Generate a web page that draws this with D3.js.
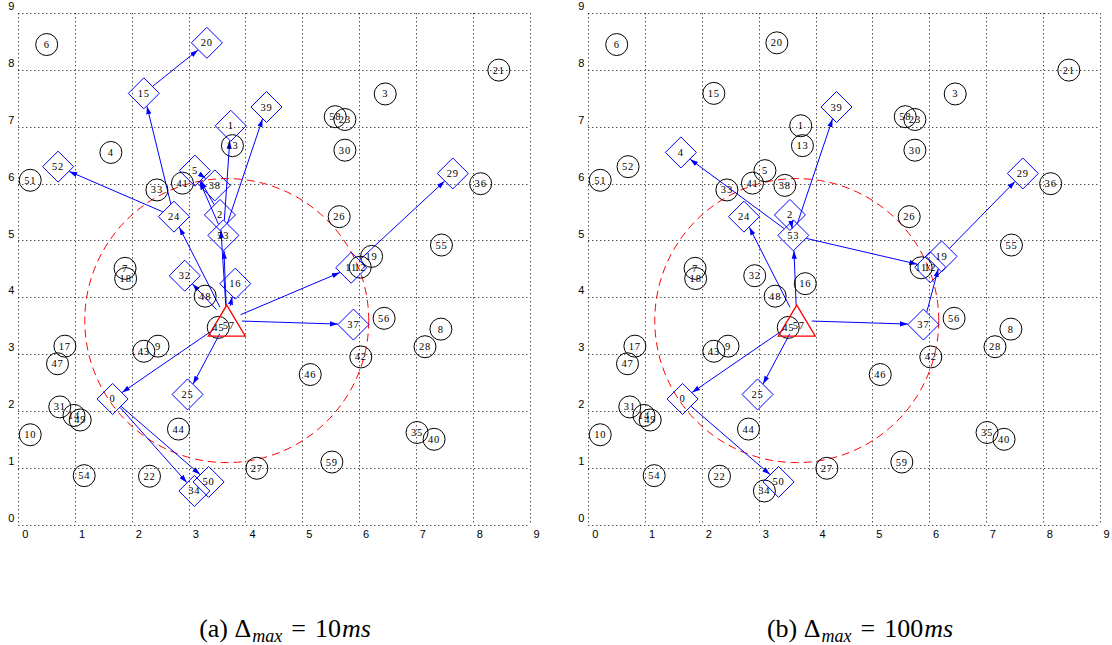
<!DOCTYPE html>
<html>
<head>
<meta charset="utf-8">
<script src="https://cdn.jsdelivr.net/npm/d3@7"></script>
<style>
  body { margin: 0; background: #fff; }
  .tick-label { font-family: "Liberation Sans", Arial, sans-serif; font-size: 11px; fill: #000; }
  .node-label { font-family: "Liberation Serif", "Times New Roman", serif; font-size: 10.5px; letter-spacing: 0.8px; fill: #000; }
  .caption { font-family: "Liberation Serif", "Times New Roman", serif; font-size: 26px; fill: #000; }
</style>
</head>
<body>
<div id="chart"></div>
<script>
// node positions (same network in both panels), index = node id
var nodeX = [1.66, 3.74, 3.55, 6.46, 1.63, 3.11, 0.50, 1.88, 7.44, 2.46,
             0.21, 5.86, 6.02, 3.77, 0.98, 2.21, 3.82, 0.82, 1.89, 6.22,
             3.32, 8.46, 2.31, 5.75, 2.74, 2.98, 5.65, 4.20, 7.16, 7.65,
             5.75, 0.73, 2.93, 2.44, 3.10, 7.02, 8.14, 5.90, 3.46, 4.37,
             7.32, 2.89, 6.03, 2.21, 2.82, 3.52, 5.14, 0.69, 3.29, 1.09,
             3.35, 0.21, 0.70, 3.61, 1.16, 7.45, 6.44, 3.67, 5.58, 5.52];
var nodeY = [2.21, 7.02, 5.45, 7.58, 6.55, 6.23, 8.45, 4.51, 3.44, 3.14,
             1.58, 4.52, 4.53, 6.67, 1.92, 7.59, 4.24, 3.14, 4.33, 4.72,
             8.48, 8.00, 0.85, 7.13, 5.42, 2.29, 5.42, 0.99, 3.13, 6.18,
             6.59, 2.07, 4.38, 5.89, 0.59, 1.62, 6.00, 3.52, 5.97, 7.35,
             1.50, 6.01, 2.95, 3.05, 1.68, 3.47, 2.64, 2.83, 4.02, 1.84,
             0.75, 6.06, 6.30, 5.09, 0.86, 4.92, 3.63, 3.59, 7.18, 1.10];

var sinkNode = 57;
var rangeRadius = 2.5;

// selected nodes (diamonds) and arrows for each panel
var diamondsA = [0, 1, 2, 5, 11, 15, 16, 20, 24, 25, 29, 32, 34, 37, 38, 39, 50, 52, 53];
var edgesA = [[57, 0], [57, 25], [57, 32], [57, 24], [57, 16], [57, 37], [57, 11], [57, 53], [57, 2],
              [53, 1], [53, 39], [53, 5], [2, 5], [5, 38], [0, 34], [0, 50], [24, 52], [24, 15],
              [15, 20], [11, 29]];

var diamondsB = [0, 2, 4, 12, 19, 24, 25, 29, 37, 39, 50, 53];
var edgesB = [[57, 0], [57, 25], [57, 24], [57, 53], [57, 37], [0, 50], [53, 4], [53, 39],
              [53, 12], [53, 2], [37, 19], [19, 29]];

var tickValues = [0, 1, 2, 3, 4, 5, 6, 7, 8, 9];

var captionA = ["(a) \u0394", "max", "=", "10", "ms"];
var captionB = ["(b) \u0394", "max", "=", "100", "ms"];

var svgWidth = 1112;
var svgHeight = 645;
var plotSize = 511.2;
var plotTop = 13.3;

var svg = d3.select("#chart").append("svg")
  .attr("width", svgWidth).attr("height", svgHeight);

svg.append("defs").append("marker")
  .attr("id", "arrow")
  .attr("viewBox", "0 -3 8 6")
  .attr("refX", 8).attr("refY", 0)
  .attr("markerWidth", 8).attr("markerHeight", 6)
  .attr("markerUnits", "userSpaceOnUse")
  .attr("orient", "auto")
  .append("path")
  .attr("d", "M0,-2.6L8,0L0,2.6Z")
  .attr("fill", "#0000ff");

function drawPanel(left, diamonds, edges, caption, captionX) {
  var xScale = d3.scaleLinear().domain([0, 9]).range([left, left + plotSize]);
  var yScale = d3.scaleLinear().domain([0, 9]).range([plotTop + plotSize, plotTop]);
  var g = svg.append("g");

  // dotted grid (incl. box)
  g.selectAll(".vgrid").data(tickValues).enter().append("line")
    .attr("x1", d => Math.round(xScale(d)) + 0.5).attr("x2", d => Math.round(xScale(d)) + 0.5)
    .attr("y1", yScale(9)).attr("y2", yScale(0))
    .attr("stroke", "#000").attr("stroke-width", 1).attr("stroke-dasharray", "1,3");
  g.selectAll(".hgrid").data(tickValues).enter().append("line")
    .attr("y1", d => Math.round(yScale(d)) + 0.5).attr("y2", d => Math.round(yScale(d)) + 0.5)
    .attr("x1", xScale(0)).attr("x2", xScale(9))
    .attr("stroke", "#000").attr("stroke-width", 1).attr("stroke-dasharray", "1,3");

  // tick labels
  g.selectAll(".xlab").data(tickValues).enter().append("text")
    .attr("class", "tick-label")
    .attr("x", d => xScale(d) + 7).attr("y", yScale(0) + 9)
    .attr("text-anchor", "middle").attr("dominant-baseline", "central")
    .text(d => d);
  g.selectAll(".ylab").data(tickValues).enter().append("text")
    .attr("class", "tick-label")
    .attr("x", xScale(0) - 7).attr("y", d => yScale(d) - 7)
    .attr("text-anchor", "middle").attr("dominant-baseline", "central")
    .text(d => d);

  // communication range of the sink
  g.append("circle")
    .attr("cx", xScale(nodeX[sinkNode])).attr("cy", yScale(nodeY[sinkNode]))
    .attr("r", xScale(rangeRadius) - xScale(0))
    .attr("fill", "none").attr("stroke", "#ff0000").attr("stroke-width", 1)
    .attr("stroke-dasharray", "8,5");

  var ids = d3.range(nodeX.length);
  var isDiamond = id => diamonds.indexOf(id) >= 0;

  function boundary(id, ux, uy) {
    if (id === sinkNode) return 15;
    if (isDiamond(id)) return 16 / (Math.abs(ux) + Math.abs(uy));
    return 11;
  }

  // arrows
  g.selectAll(".edge").data(edges).enter().append("line")
    .each(function(e) {
      var x1 = xScale(nodeX[e[0]]), y1 = yScale(nodeY[e[0]]);
      var x2 = xScale(nodeX[e[1]]), y2 = yScale(nodeY[e[1]]);
      var len = Math.hypot(x2 - x1, y2 - y1);
      var ux = (x2 - x1) / len, uy = (y2 - y1) / len;
      var s = boundary(e[0], ux, uy), t = boundary(e[1], ux, uy);
      d3.select(this)
        .attr("x1", x1 + ux * s).attr("y1", y1 + uy * s)
        .attr("x2", x2 - ux * t).attr("y2", y2 - uy * t);
    })
    .attr("stroke", "#0000ff").attr("stroke-width", 1)
    .attr("marker-end", "url(#arrow)");

  // plain nodes
  g.selectAll(".node").data(ids.filter(id => !isDiamond(id) && id !== sinkNode)).enter().append("circle")
    .attr("cx", d => xScale(nodeX[d])).attr("cy", d => yScale(nodeY[d]))
    .attr("r", 11)
    .attr("fill", "none").attr("stroke", "#000").attr("stroke-width", 1);

  // selected nodes
  g.selectAll(".sel").data(diamonds).enter().append("path")
    .attr("d", d => {
      var cx = xScale(nodeX[d]), cy = yScale(nodeY[d]), h = 15.5;
      return `M${cx},${cy - h}L${cx + h},${cy}L${cx},${cy + h}L${cx - h},${cy}Z`;
    })
    .attr("fill", "none").attr("stroke", "#0000ff").attr("stroke-width", 1);

  // sink
  var sx = xScale(nodeX[sinkNode]), sy = yScale(nodeY[sinkNode]);
  g.append("path")
    .attr("d", `M${sx},${sy - 15.5}L${sx + 18.5},${sy + 15.5}L${sx - 18.5},${sy + 15.5}Z`)
    .attr("fill", "none").attr("stroke", "#ff0000").attr("stroke-width", 1.3);

  // labels
  g.selectAll(".lab").data(ids).enter().append("text")
    .attr("class", "node-label")
    .attr("x", d => xScale(nodeX[d]) + (d === sinkNode ? 2 : 0))
    .attr("y", d => yScale(nodeY[d]) + (d === sinkNode ? 5 : 0))
    .attr("text-anchor", "middle").attr("dominant-baseline", "central")
    .text(d => d);

  // caption
  var cap = svg.append("text").attr("class", "caption")
    .attr("x", captionX).attr("y", 637).attr("text-anchor", "middle");
  cap.append("tspan").text(caption[0]);
  cap.append("tspan").attr("font-style", "italic").attr("font-size", "18px").attr("dx", 1).attr("dy", 5).text(caption[1]);
  cap.append("tspan").attr("dx", 9).attr("dy", -5).text(caption[2]);
  cap.append("tspan").attr("dx", 9).text(caption[3]);
  cap.append("tspan").attr("font-style", "italic").attr("dx", 1).text(caption[4]);
}

drawPanel(18.3, diamondsA, edgesA, captionA, 285);
drawPanel(588.3, diamondsB, edgesB, captionB, 860);
</script>
</body>
</html>
